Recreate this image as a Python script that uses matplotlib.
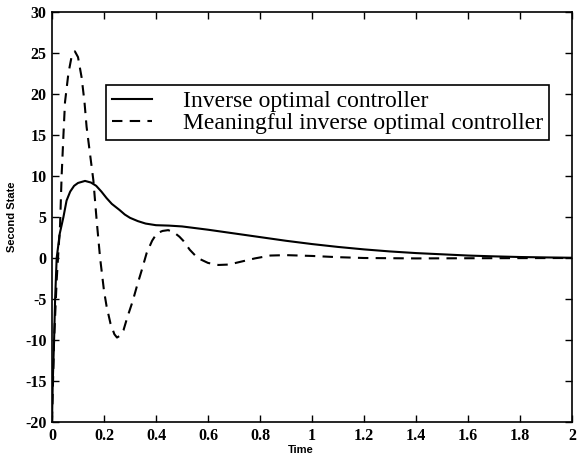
import matplotlib
matplotlib.use("Agg")
import matplotlib.pyplot as plt

# Inverse optimal controller (solid)
t_inv = [0, 0.003, 0.008, 0.012, 0.018, 0.03, 0.044, 0.056, 0.07, 0.085, 0.1, 0.127,
         0.15, 0.17, 0.19, 0.21, 0.23, 0.26, 0.28, 0.30, 0.33, 0.36, 0.40, 0.45, 0.50,
         0.55, 0.60, 0.70, 0.80, 0.90, 1.00, 1.10, 1.20, 1.30, 1.40, 1.50, 1.60, 1.70,
         1.80, 1.90, 2.00]
y_inv = [-20, -15, -10, -5, 0, 3, 5, 7, 8.1, 8.8, 9.15, 9.4,
         9.2, 8.8, 8.1, 7.3, 6.6, 5.85, 5.3, 4.9, 4.5, 4.2, 4.0, 3.95, 3.85,
         3.65, 3.45, 3.0, 2.55, 2.1, 1.7, 1.35, 1.05, 0.8, 0.6, 0.45, 0.3, 0.2,
         0.12, 0.07, 0.03]

# Meaningful inverse optimal controller (dashed)
t_mio = [0, 0.008, 0.018, 0.025, 0.031, 0.037, 0.044, 0.05, 0.063, 0.075, 0.088, 0.10,
         0.114, 0.125, 0.133, 0.145, 0.159, 0.172, 0.185, 0.20, 0.21, 0.225, 0.24, 0.25,
         0.26, 0.275, 0.29, 0.31, 0.326, 0.345, 0.364, 0.385, 0.403, 0.425, 0.447, 0.47,
         0.49, 0.505, 0.53, 0.56, 0.60, 0.64, 0.68, 0.72, 0.78, 0.84, 0.90, 1.0, 1.1,
         1.2, 1.4, 1.6, 2.0]
y_mio = [-20, -10, -2.7, 1, 4, 10, 15, 19, 22.5, 24.5, 25.2, 24.5,
         22, 19, 16, 13, 9.5, 4.5, 0, -4, -5.9, -8, -9.3, -9.7,
         -9.5, -8.8, -7.2, -5.3, -3.5, -1.5, 0.6, 2.1, 3.0, 3.3, 3.4, 3.1,
         2.6, 2.1, 1.0, 0.0, -0.6, -0.85, -0.8, -0.5, -0.05, 0.3, 0.35, 0.25, 0.1,
         0.0, -0.05, -0.03, 0.0]

x_ticks = [0, 0.2, 0.4, 0.6, 0.8, 1, 1.2, 1.4, 1.6, 1.8, 2]
x_ticklabels = ["0", "0.2", "0.4", "0.6", "0.8", "1", "1.2", "1.4", "1.6", "1.8", "2"]
y_ticks = [-20, -15, -10, -5, 0, 5, 10, 15, 20, 25, 30]
y_ticklabels = ["-20", "-15", "-10", "-5", "0", "5", "10", "15", "20", "25", "30"]

fig = plt.figure(figsize=(5.88, 4.59), dpi=100)
ax = fig.add_axes([52/588, 37/459, 520/588, 410/459])

ax.plot(t_inv, y_inv, color="black", lw=1.5, label="Inverse optimal controller")
ax.plot(t_mio, y_mio, color="black", lw=1.5, dashes=(5, 3.5),
        label="Meaningful inverse optimal controller")

ax.set_xlim(0, 2)
ax.set_ylim(-20, 30)
ax.set_xticks(x_ticks)
ax.set_xticklabels(x_ticklabels)
ax.set_yticks(y_ticks)
ax.set_yticklabels(y_ticklabels)
ax.tick_params(direction="in", top=True, right=True, length=5, width=1, pad=4)
for lab in ax.get_xticklabels() + ax.get_yticklabels():
    lab.set_fontfamily("Liberation Serif")
    lab.set_fontweight("bold")
    lab.set_fontsize(11.5)
for s in ax.spines.values():
    s.set_linewidth(1.2)

ax.set_xlabel("Time", fontsize=8, fontweight="bold", family="Liberation Sans", labelpad=1)
ax.xaxis.set_label_coords(0.478, -0.055)
ax.set_ylabel("Second State", fontsize=8, fontweight="bold", family="Liberation Sans", labelpad=1)
ax.yaxis.set_label_coords(-0.068, 0.5)

leg = ax.legend(loc="upper left", bbox_to_anchor=(0.104, 0.822), frameon=True,
                fancybox=False, edgecolor="black", framealpha=1,
                prop={"family": "Liberation Serif", "size": 17},
                handlelength=1.7, handletextpad=1.3, borderpad=0.25, labelspacing=0.0,
                borderaxespad=0)
leg.get_frame().set_linewidth(1.2)

fig.savefig("out.png", dpi=100)
